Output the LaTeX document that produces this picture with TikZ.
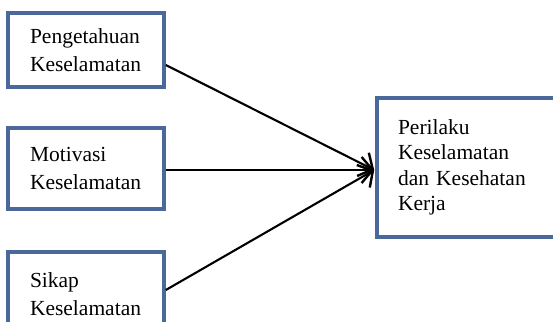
\documentclass[tikz,border=0pt]{standalone}
\usepackage{fontspec}
\setmainfont{Liberation Serif}
\usetikzlibrary{arrows.meta}
\definecolor{boxblue}{RGB}{74,104,153}
\begin{document}
\begin{tikzpicture}[x=1pt,y=-1pt,
  box/.style={draw=boxblue, line width=3.6pt, fill=white, align=left,
    inner xsep=22pt, inner ysep=0pt, font=\fontsize{21.5}{27.5}\selectfont},
  link/.style={line width=2.1pt, -{Straight Barb[length=11pt,width=26pt,line width=2.4pt]}}]
\useasboundingbox (0,0) rectangle (553,321);
\node[box, text width=112pt, minimum width=154pt, minimum height=74pt] (b1) at (86,50) {Pengetahuan\\Keselamatan};
\node[box, text width=112pt, minimum width=154pt, minimum height=81pt] (b2) at (86,168.5) {Motivasi\\Keselamatan};
\node[box, text width=112pt, minimum width=154pt, minimum height=84pt] (b3) at (86,294) {Sikap\\Keselamatan};
\node[box, inner xsep=21pt, text width=140pt, minimum width=182pt, minimum height=139pt,
  font=\fontsize{21.5}{25.5}\selectfont] (b4) at (468,167.5) {Perilaku\\Keselamatan\\dan Kesehatan\\Kerja};
\coordinate (t) at ([xshift=-1pt,yshift=-2.5pt]b4.west);
\draw[link] ([yshift=-15pt]b1.east) -- (t);
\draw[link] ([yshift=-1.5pt]b2.east) -- (t);
\draw[link] ([yshift=4pt]b3.east) -- (t);
\end{tikzpicture}
\end{document}
